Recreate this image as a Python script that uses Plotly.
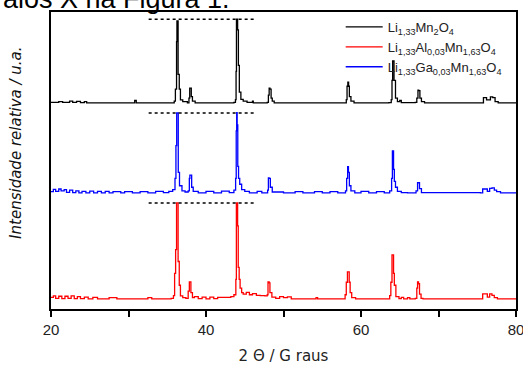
import plotly.graph_objects as go

# ---- data (2θ in degrees, relative intensity in arbitrary units, traces stacked) ----
names = ["Li<sub>1,33</sub>Mn<sub>2</sub>O<sub>4</sub>",
         "Li<sub>1,33</sub>Al<sub>0,03</sub>Mn<sub>1,63</sub>O<sub>4</sub>",
         "Li<sub>1,33</sub>Ga<sub>0,03</sub>Mn<sub>1,63</sub>O<sub>4</sub>"]

black_x = [20.0, 21.0, 21.5, 22.4, 22.8, 23.3, 23.8, 24.3, 24.6, 30.6, 30.8, 31.0, 35.6, 35.9, 36.05,
           36.2, 36.25, 36.32, 36.4, 36.55, 36.7, 37.0, 37.6, 37.8, 37.9, 38.0, 38.1, 38.25, 38.6,
           43.6, 43.8, 43.88, 43.93, 44.0, 44.08, 44.18, 44.3, 44.5, 44.8, 45.3, 46.0, 46.1,
           47.9, 48.05, 48.15, 48.25, 48.4, 48.55, 48.8, 57.9, 58.1, 58.2, 58.3, 58.4, 58.5, 58.7, 59.1,
           63.6, 63.9, 64.0, 64.08, 64.16, 64.26, 64.45, 64.7, 65.0, 65.2, 67.0, 67.2, 67.35, 67.45,
           67.6, 67.8, 68.2, 75.5, 75.8, 76.0, 76.2, 76.4, 76.7, 77.0, 77.3, 77.7, 80.0]
black_y = [69.6, 69.8, 69.6, 70.0, 69.6, 69.9, 69.5, 69.8, 69.4, 69.4, 70.2, 69.4, 69.4, 70.0, 74.0,
           90.0, 97.0, 97.0, 79.0, 74.0, 70.4, 69.8, 69.4, 71.0, 74.4, 74.4, 71.5, 70.0, 69.4,
           69.6, 70.5, 80.0, 97.6, 97.6, 94.0, 82.0, 73.0, 70.6, 70.0, 69.6, 70.0, 69.4,
           69.6, 72.0, 74.4, 74.0, 71.0, 70.0, 69.4, 69.4, 70.5, 75.0, 76.4, 75.0, 71.5, 70.0, 69.4,
           69.5, 70.5, 77.0, 83.5, 83.5, 77.0, 71.0, 69.8, 70.2, 69.5, 69.6, 71.0, 73.7, 73.5,
           71.0, 69.8, 69.4, 69.4, 71.2, 71.2, 70.4, 70.4, 71.4, 71.2, 69.8, 69.4, 69.4]

blue_x = [20.0, 20.3, 20.6, 21.0, 21.3, 21.7, 22.0, 22.4, 22.8, 23.2, 23.6, 24.0, 24.5, 25.0, 25.5,
          26.0, 26.5, 27.0, 27.5, 28.0, 29.0, 29.5, 30.5, 31.5, 32.5, 33.5, 34.5, 35.2, 35.7, 36.0,
          36.12, 36.22, 36.32, 36.42, 36.58, 36.9, 37.3, 37.7, 37.85, 37.92, 38.0, 38.15, 38.35,
          39.0, 40.0, 41.0, 42.0, 43.0, 43.6, 43.82, 43.9, 43.96, 44.02, 44.1, 44.2, 44.35, 44.6,
          45.0, 45.6, 46.6, 47.2, 47.95, 48.05, 48.15, 48.3, 48.55, 50.0, 51.5, 52.5, 54.0, 55.0,
          56.0, 57.0, 58.0, 58.15, 58.28, 58.38, 58.5, 58.7, 59.2, 60.0, 61.0, 62.0, 63.0, 63.7,
          63.95, 64.05, 64.12, 64.2, 64.3, 64.45, 64.7, 65.2, 66.0, 67.1, 67.3, 67.4, 67.55, 67.8,
          75.4, 75.7, 76.0, 76.3, 76.6, 76.9, 77.2, 77.5, 78.0, 80.0]
blue_y = [39.5, 40.3, 39.6, 40.4, 39.8, 40.2, 39.3, 40.0, 39.2, 39.8, 39.1, 39.6, 39.1, 39.7, 39.1,
          39.6, 39.1, 39.6, 39.1, 39.5, 39.1, 39.5, 39.1, 39.5, 39.1, 39.6, 39.2, 39.6, 40.2, 44.0,
          55.0, 66.0, 66.0, 46.0, 41.5, 39.8, 39.4, 39.8, 44.0, 45.1, 45.1, 41.0, 39.6,
          39.1, 39.6, 39.1, 39.7, 39.2, 40.0, 44.0, 60.0, 66.1, 62.0, 48.0, 44.0, 42.0, 40.2,
          39.6, 39.1, 39.6, 39.1, 40.0, 44.1, 44.0, 41.0, 39.4, 39.1, 39.5, 39.1, 39.5, 39.1,
          39.5, 39.1, 39.8, 44.0, 47.9, 46.0, 41.5, 39.8, 39.1, 39.6, 39.1, 39.5, 39.1, 39.8,
          44.0, 53.2, 53.2, 47.0, 43.0, 41.0, 39.6, 39.2, 39.1, 39.8, 42.5, 42.5, 40.5, 39.2,
          39.1, 40.4, 40.4, 39.6, 40.6, 40.8, 40.0, 39.5, 39.1, 39.1]

red_x = [20.0, 20.3, 20.6, 21.0, 21.4, 21.8, 22.2, 22.6, 23.0, 23.4, 23.8, 24.3, 24.8, 25.4, 26.0,
         27.5, 28.5, 32.0, 32.5, 33.0, 35.5, 35.8, 35.95, 36.08, 36.2, 36.3, 36.4, 36.55, 36.7,
         37.0, 37.4, 37.7, 37.85, 37.95, 38.05, 38.25, 38.5, 39.0, 39.5, 40.0, 40.5, 41.0, 41.5,
         42.5, 43.2, 43.6, 43.85, 43.92, 44.0, 44.08, 44.16, 44.28, 44.4, 44.6, 44.8, 45.2, 45.6,
         46.0, 46.5, 47.0, 47.6, 47.9, 48.0, 48.15, 48.25, 48.5, 49.0, 49.5, 50.0, 50.5, 51.0,
         54.0, 54.2, 54.4, 57.6, 57.95, 58.1, 58.25, 58.38, 58.48, 58.6, 58.8, 59.3, 63.4, 63.7,
         63.85, 64.0, 64.1, 64.2, 64.3, 64.5, 64.9, 65.2, 65.5, 66.0, 66.3, 67.0, 67.2, 67.3,
         67.42, 67.55, 67.75, 68.0, 75.4, 75.7, 76.0, 76.3, 76.6, 76.9, 77.2, 77.6, 80.0]
red_y = [3.9, 4.4, 3.6, 4.3, 3.5, 4.3, 3.6, 4.4, 3.5, 4.2, 3.5, 4.0, 3.4, 3.9, 3.4,
         3.8, 3.4, 3.4, 3.8, 3.4, 3.6, 4.5, 12.0, 20.0, 35.7, 35.7, 16.0, 8.0, 4.4,
         3.8, 3.6, 6.0, 9.1, 9.1, 5.5, 3.8, 4.2, 3.5, 4.0, 3.4, 4.0, 3.5, 3.9,
         3.9, 4.2, 4.8, 10.0, 35.7, 35.7, 28.0, 14.0, 10.0, 7.0, 5.5, 5.0, 5.6, 4.8,
         5.2, 4.6, 4.5, 4.4, 4.8, 9.1, 8.8, 5.5, 4.0, 3.6, 4.2, 3.8, 4.1, 3.4,
         3.4, 3.8, 3.4, 3.4, 4.8, 9.0, 12.5, 12.5, 9.0, 5.5, 3.8, 3.4, 3.4, 4.5,
         9.0, 18.2, 18.2, 12.0, 8.0, 4.2, 3.5, 3.9, 3.4, 3.8, 3.4, 3.6, 7.0, 9.1,
         8.5, 5.0, 3.6, 3.4, 3.4, 5.1, 5.1, 4.0, 5.1, 4.6, 3.8, 3.4, 3.4]

# dashed reference lines at the tallest peaks of each pattern
dash_x = [32.6, 46.5]
dash_levels = [97.6, 66.0, 35.7]

fig = go.Figure()

series = [(black_x, black_y, "#000000"), (red_x, red_y, "#ff0000"), (blue_x, blue_y, "#0000ff")]
for i, (xs, ys, col) in enumerate(series):
    fig.add_trace(go.Scatter(x=xs, y=ys, mode="lines", name=names[i], legendgroup=str(i),
                             line=dict(color=col, width=1.3, shape="hv")))

for lvl in dash_levels:
    fig.add_trace(go.Scatter(x=dash_x, y=[lvl, lvl], mode="lines", showlegend=False,
                             line=dict(color="#000000", width=1.5, dash="3px,3px")))

fig.add_annotation(text="raios X na Figura 1.", xref="paper", yref="paper",
                   x=-0.127, y=1.045, xanchor="left", yanchor="middle", showarrow=False,
                   font=dict(family="Liberation Sans, Arial", size=27, color="#000000"))

fig.add_annotation(text="<i>Intensidade relativa / u.a.</i>", xref="paper", yref="paper",
                   x=-0.077, y=0.56, xanchor="center", yanchor="middle", showarrow=False,
                   textangle=-90,
                   font=dict(family="DejaVu Sans", size=15, color="#111111"))

fig.update_layout(
    width=523, height=365,
    margin=dict(l=51, r=7, t=12, b=56),
    paper_bgcolor="white", plot_bgcolor="white",
    showlegend=True,
    legend=dict(x=0.623, y=1.0, xanchor="left", yanchor="top", itemwidth=37,
                bgcolor="rgba(0,0,0,0)", tracegroupgap=0,
                font=dict(family="Liberation Sans, Arial", size=13, color="#222222")),
    xaxis=dict(range=[20, 80], tick0=20, dtick=20, automargin=False,
               ticklabeloverflow="allow",
               ticks="outside", ticklen=6, tickwidth=1.5, tickcolor="#000000",
               minor=dict(tick0=20, dtick=10, ticks="outside", ticklen=6, tickwidth=1.5,
                          tickcolor="#000000", showgrid=False),
               showline=True, linecolor="#000000", linewidth=1.5, mirror=True,
               showgrid=False, zeroline=False,
               tickfont=dict(family="Liberation Sans, Arial", size=15, color="#222222"),
               title=dict(text="2 Θ / G raus", standoff=18,
                          font=dict(family="DejaVu Sans", size=15, color="#222222"))),
    yaxis=dict(range=[0, 100], showticklabels=False, ticks="", automargin=False,
               showline=True, linecolor="#000000", linewidth=1.5, mirror=True,
               showgrid=False, zeroline=False),
)

fig.write_html("out.html", config={"displayModeBar": False},
               post_script="document.body.style.margin='0px';document.body.style.overflow='hidden';")
